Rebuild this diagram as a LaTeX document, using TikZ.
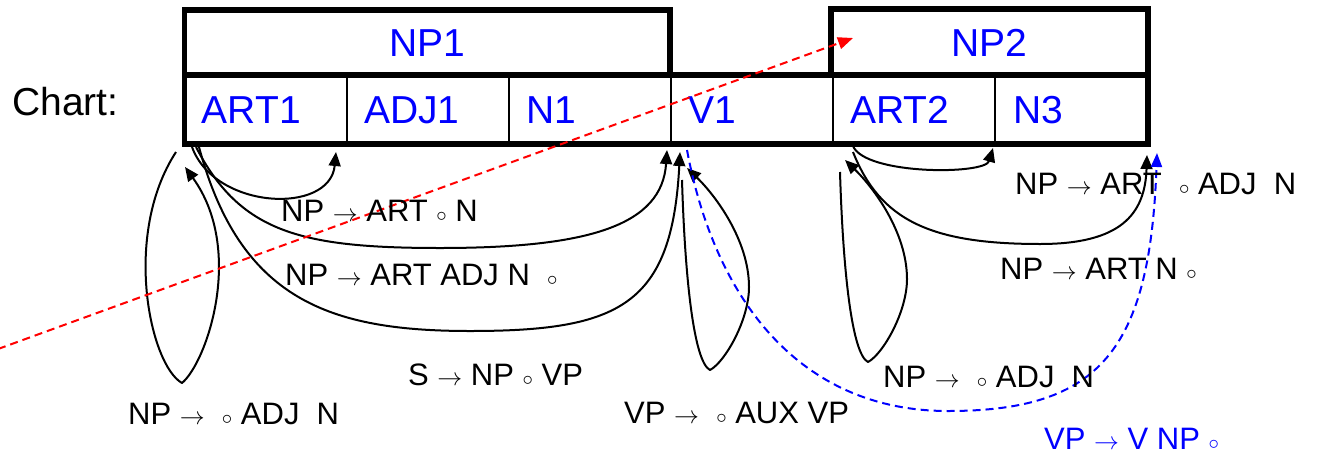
\documentclass[tikz,border=0pt]{standalone}
\usepackage{fontspec}
\setmainfont{Liberation Sans}
\usetikzlibrary{arrows.meta}
\definecolor{pblue}{RGB}{0,0,255}
\definecolor{pred}{RGB}{255,0,0}
\newcommand{\myarr}{$\rightarrow$}
\newcommand{\mydot}{$\scriptstyle\circ$}
\begin{document}
\begin{tikzpicture}[x=1pt,y=-1pt,
  boxfont/.style={font=\fontsize{39}{46}\selectfont, text height=28pt, text depth=0pt},
  bigbox/.style={draw, line width=5.5pt, outer sep=0pt, inner sep=0pt, anchor=north west, text=pblue, boxfont},
  cell/.style={draw, line width=2pt, outer sep=0pt, inner sep=0pt, anchor=north west, minimum height=69pt, text=pblue, align=left, boxfont},
  rowframe/.style={line width=5.5pt},
  lab/.style={anchor=west, inner sep=0pt, text height=22pt, text depth=0pt, font=\fontsize{31}{36}\selectfont},
  arr/.style={line width=2pt, line join=round, -{Triangle[length=14pt,width=12pt]}},
  loopline/.style={line width=2pt, line join=round, -{Triangle[length=14pt,width=12pt]}},
  bluedash/.style={line width=2pt, draw=pblue, dash pattern=on 8pt off 5pt, -{Triangle[length=14pt,width=11pt,fill=pblue]}},
  reddash/.style={line width=2pt, draw=pred, dash pattern=on 8pt off 5pt, -{Triangle[length=15pt,width=12pt,fill=pred]}}
]
\useasboundingbox (0,0) rectangle (1317,453);

% chart label
\node[anchor=west, inner sep=0pt, boxfont] (chart) at (12,101) {Chart:};

% top boxes
\node[bigbox, minimum width=485.5pt, minimum height=65pt, align=center] (np1) at (184.5,10) {NP1};
\node[bigbox, minimum width=317pt, minimum height=66pt, align=center] (np2) at (831,9) {NP2};

% cells
\node[cell, minimum width=162.5pt, text width=128pt] (art1) at (184.5,75) {ART1};
\node[cell, minimum width=162pt, text width=128pt] (adj1) at (347,75) {ADJ1};
\node[cell, minimum width=162pt, text width=128pt] (n1) at (509,75) {N1};
\node[cell, minimum width=162pt, text width=128pt] (v1) at (671,75) {V1};
\node[cell, minimum width=162pt, text width=128pt] (art2) at (833,75) {ART2};
\node[cell, minimum width=153pt, text width=117pt] (n3) at (995,75) {N3};
\draw[rowframe] (art1.north west) rectangle (n3.south east);

% connector end points
\coordinate (a1s) at (192,147);  \coordinate (a1e) at (336,152);
\coordinate (a2s) at (196,147);  \coordinate (a2m) at (440,248); \coordinate (a2e) at (667,150);
\coordinate (a3s) at (199,147);  \coordinate (a3m) at (470,331); \coordinate (a3e) at (680,152);
\coordinate (l0s) at (176,152);  \coordinate (l0m) at (182,383); \coordinate (l0e) at (185,167);
\coordinate (l3s) at (682,180);  \coordinate (l3m) at (710,370); \coordinate (l3x) at (749,287); \coordinate (l3e) at (687,168);
\coordinate (l4s) at (840,172);  \coordinate (l4m) at (868,362); \coordinate (l4x) at (907,279); \coordinate (l4e) at (845,160);
\coordinate (a7s) at (853,146);  \coordinate (a7e) at (993,148);
\coordinate (a8s) at (853,152);  \coordinate (a8m) at (1040,244); \coordinate (a8e) at (1147,155);
\coordinate (bs) at (687,150);   \coordinate (bm) at (948,411);   \coordinate (be) at (1157,153);
\coordinate (rs) at (-2,349);    \coordinate (re) at (853,38);

% arcs from ART1 start
\draw[arr] (a1s) .. controls (215,210) and (330,215) .. (a1e);
\draw[arr] (a2s) .. controls (240,232) and (300,248) .. (a2m) .. controls (590,248) and (662,225) .. (a2e);
\draw[arr] (a3s) .. controls (240,300) and (330,331) .. (a3m) .. controls (620,331) and (672,305) .. (a3e);
% self loops
\draw[loopline] (l0s) .. controls (122,235) and (150,365) .. (l0m) .. controls (207,362) and (245,250) .. (l0e);
\draw[loopline] (l3s) .. controls (685,280) and (694,362) .. (l3m) .. controls (725,362) and (749,320) .. (l3x) .. controls (749,240) and (715,195) .. (l3e);
\draw[loopline] (l4s) .. controls (843,272) and (852,354) .. (l4m) .. controls (883,354) and (907,312) .. (l4x) .. controls (907,232) and (873,187) .. (l4e);
% arcs from ART2 start
\draw[arr] (a7s) .. controls (865,175) and (985,175) .. (a7e);
\draw[arr] (a8s) .. controls (880,220) and (930,244) .. (a8m) .. controls (1120,244) and (1145,215) .. (a8e);
% dashed arcs
\draw[bluedash] (bs) .. controls (715,300) and (800,411) .. (bm) .. controls (1100,411) and (1150,350) .. (be);
\draw[reddash] (rs) -- (re);

% labels
\node[lab] (t1) at (281,210) {NP \myarr{} ART \mydot{} N};
\node[lab] (t2) at (285,274) {NP \myarr{} ART ADJ N\ \ \mydot};
\node[lab] (t3) at (408,374) {S \myarr{} NP \mydot{} VP};
\node[lab] (t4) at (128,413) {NP \myarr{}\ \ \mydot{} ADJ\ \ N};
\node[lab] (t5) at (624,412) {VP \myarr{}\ \ \mydot{} AUX VP};
\node[lab] (t6) at (883,376) {NP \myarr{}\ \ \mydot{} ADJ\ \ N};
\node[lab] (t7) at (1015,183) {NP \myarr{} ART\ \ \mydot{} ADJ\ \ N};
\node[lab] (t8) at (1000,268) {NP \myarr{} ART N \mydot};
\node[lab, text=pblue] (t9) at (1044,438) {VP \myarr{} V NP \mydot};
\end{tikzpicture}
\end{document}
